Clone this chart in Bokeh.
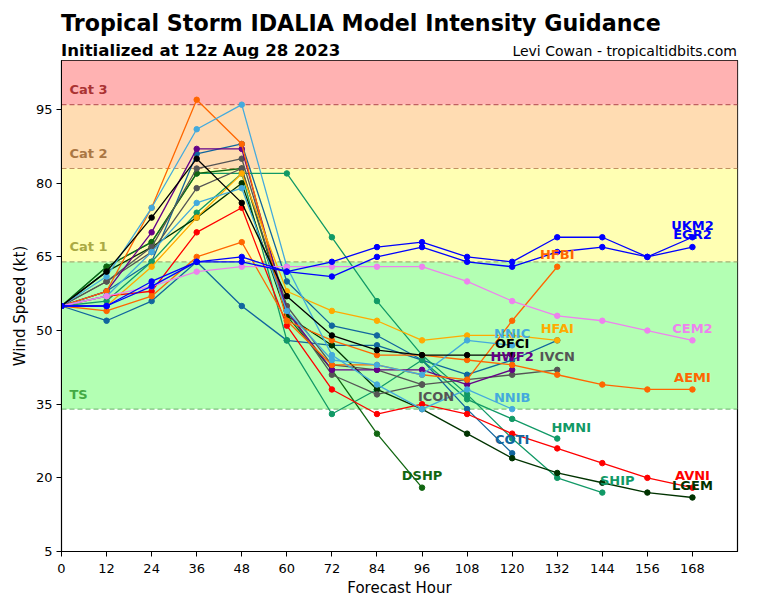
from bokeh.plotting import figure
from bokeh.models import BoxAnnotation, Span, Label, ColumnDataSource, FixedTicker, Range1d, Div
from bokeh.layouts import column
from bokeh.embed import file_html
from bokeh.resources import INLINE

hours = [0, 12, 24, 36, 48, 60, 72, 84, 96, 108, 120, 132, 144, 156, 168]

UKM2 = [55, 55, 60, 64, 65, 62, 64, 67, 68, 65, 64, 69, 69, 65, 69]
EGR2 = [55, 55, 59, 64, 64, 62, 61, 65, 67, 64, 63, 66, 67, 65, 67]
CEM2 = [55, 57, 59, 62, 63, 63, 63, 63, 63, 60, 56, 53, 52, 50, 48]
HFBI = [55, 58, 75, 97, 88, 52, 43, 43, 41, 40, 52, 63]
AEMI = [55, 54, 57, 65, 68, 52, 48, 45, 45, 44, 43, 41, 39, 38, 38]
HFAI = [55, 55, 63, 73, 82, 58, 54, 52, 48, 49, 49, 48]
NNIC = [55, 57, 66, 76, 79, 54, 44, 43, 41, 48, 47]
NNIB = [55, 61, 75, 91, 96, 63, 45, 39, 34, 38, 34]
OFCI = [55, 62, 73, 85, 76, 57, 49, 46, 45, 45, 45]
HWF2 = [55, 58, 70, 87, 87, 54, 42, 42, 42, 39, 42]
IVCN = [55, 60, 67, 83, 85, 55, 43, 42, 39, 40, 41, 42]
ICON = [55, 60, 66, 79, 83, 54, 41, 37, 39]
COTI = [55, 58, 64, 86, 88, 60, 51, 49, 44, 34, 25]
CTCX = [55, 52, 56, 64, 55, 48, 47, 47, 44, 41, 44, 48]
HMNI = [55, 56, 64, 74, 82, 48, 33, 38, 44, 36, 32, 28]
SHIP = [55, 63, 68, 82, 82, 82, 69, 56, 45, 37, 28, 20, 17]
DSHP = [55, 63, 68, 82, 83, 53, 42, 29, 18]
AVNI = [55, 57, 58, 70, 75, 51, 38, 33, 35, 33, 29, 26, 23, 20, 18]
LGEM = [55, 62, 67, 73, 80, 53, 47, 38, 34, 29, 24, 21, 19, 17, 16]

y_ticks = [5, 20, 35, 50, 65, 80, 95]
x_ticks = hours

TITLE = "Tropical Storm IDALIA Model Intensity Guidance"
SUBTITLE = "Initialized at 12z Aug 28 2023"
CREDIT = "Levi Cowan - tropicaltidbits.com"

# (name, values, colour, show label, label dx px, label dy px)
series = [
    ("COTI", COTI, "#11669e", True, 0, 14),
    ("CTCX", CTCX, "#11669e", False, 0, 12),
    ("HMNI", HMNI, "#119966", True, 14, 11),
    ("SHIP", SHIP, "#119966", True, 15, 12),
    ("DSHP", DSHP, "#116611", True, 0, 12),
    ("LGEM", LGEM, "#003300", True, 0, 12),
    ("AVNI", AVNI, "#ff0000", True, 0, 12),
    ("ICON", ICON, "#555555", True, 14, -12),
    ("IVCN", IVCN, "#555555", True, 0, 13),
    ("HWF2", HWF2, "#660088", True, 0, 13),
    ("AEMI", AEMI, "#ff6600", True, 0, 12),
    ("HFBI", HFBI, "#ff6600", True, 0, 12),
    ("HFAI", HFAI, "#ffaa00", True, 0, 12),
    ("NNIB", NNIB, "#44aadd", True, 0, 12),
    ("NNIC", NNIC, "#44aadd", True, 0, 12),
    ("CEM2", CEM2, "#ee82ee", True, 0, 12),
    ("OFCI", OFCI, "#000000", True, 0, 12),
    ("EGR2", EGR2, "#0000ff", True, 0, 13),
    ("UKM2", UKM2, "#0000ff", True, 0, 12),
]

FONT = "DejaVu Sans"

p = figure(frame_width=676, frame_height=491, output_backend="svg", toolbar_location=None,
           x_range=Range1d(0, 180), y_range=Range1d(5, 105),
           min_border_left=61, min_border_top=2, min_border_right=23, min_border_bottom=46)
p.background_fill_color = "white"
p.border_fill_color = "white"
p.outline_line_color = "black"
p.outline_line_width = 1.2
p.xgrid.visible = False
p.ygrid.visible = False

# intensity bands
bands = [
    (96, None, "#ffb2b2", "#c06060", "Cat 3", "#aa3333"),
    (83, 96, "#ffdcb2", "#c09060", "Cat 2", "#aa7744"),
    (64, 83, "#ffffb3", "#a8b070", "Cat 1", "#aaaa44"),
    (34, 64, "#b3ffb3", "#80c080", "TS", "#44aa44"),
]
for lo, hi, fill, edge, name, tcol in bands:
    p.add_layout(BoxAnnotation(bottom=lo, top=hi, fill_color=fill, fill_alpha=1.0,
                               line_color=None, level="underlay"))
for lo, hi, fill, edge, name, tcol in bands:
    p.add_layout(Span(location=lo, dimension="width", line_color=edge, line_dash="5 3",
                      line_width=1.2, level="underlay"))
    p.add_layout(Label(x=0, y=lo, x_offset=8, y_offset=15, text=name, text_color=tcol,
                       text_font=FONT, text_font_style="bold", text_font_size="13px",
                       text_baseline="middle", text_align="left"))

for name, vals, col, show, dx, dy in series:
    src = ColumnDataSource(dict(x=hours[:len(vals)], y=vals))
    p.line("x", "y", source=src, line_color=col, line_width=1.3)
    p.scatter("x", "y", source=src, size=5.5, fill_color=col, line_color=col)

for name, vals, col, show, dx, dy in series:
    if show:
        p.add_layout(Label(x=hours[len(vals) - 1], y=vals[-1], x_offset=dx, y_offset=dy,
                           text=name, text_color=col, text_font=FONT, text_font_style="bold",
                           text_font_size="13px", text_align="center", text_baseline="middle"))

for ax in (p.xaxis[0], p.yaxis[0]):
    ax.major_label_text_font = FONT
    ax.major_label_text_font_size = "13px"
    ax.major_label_text_color = "black"
    ax.axis_label_text_font = FONT
    ax.axis_label_text_font_size = "15px"
    ax.axis_label_text_font_style = "normal"
    ax.axis_label_text_color = "black"
    ax.major_tick_out = 5
    ax.major_tick_in = 0
    ax.minor_tick_out = 0
    ax.minor_tick_in = 0
    ax.axis_line_color = "black"
    ax.major_tick_line_color = "black"

p.xaxis.ticker = FixedTicker(ticks=x_ticks)
p.yaxis.ticker = FixedTicker(ticks=y_ticks)
p.xaxis.axis_label = "Forecast Hour"
p.yaxis.axis_label = "Wind Speed (kt)"
p.xaxis.major_label_standoff = 7
p.yaxis.major_label_standoff = 4
p.xaxis.axis_label_standoff = 3
p.yaxis.axis_label_standoff = 4

header_html = (
    "<div style='position:relative;width:760px;height:58px;overflow:visible;font-family:\"DejaVu Sans\";color:black;'>"
    f"<div style='position:absolute;left:61px;top:10px;font-size:22.2px;font-weight:bold;line-height:26px;white-space:nowrap;'>{TITLE}</div>"
    f"<div style='position:absolute;left:61px;top:42px;font-size:16.6px;font-weight:bold;line-height:18px;white-space:nowrap;'>{SUBTITLE}</div>"
    f"<div style='position:absolute;right:23px;top:43px;font-size:14px;line-height:16px;white-space:nowrap;'>{CREDIT}</div>"
    "</div>"
)
header = Div(text=header_html, width=760, height=58, margin=(0, 0, 0, 0),
             styles={"overflow": "visible"})

layout = column(header, p, spacing=0)

open("out.html", "w").write(file_html(layout, INLINE))
